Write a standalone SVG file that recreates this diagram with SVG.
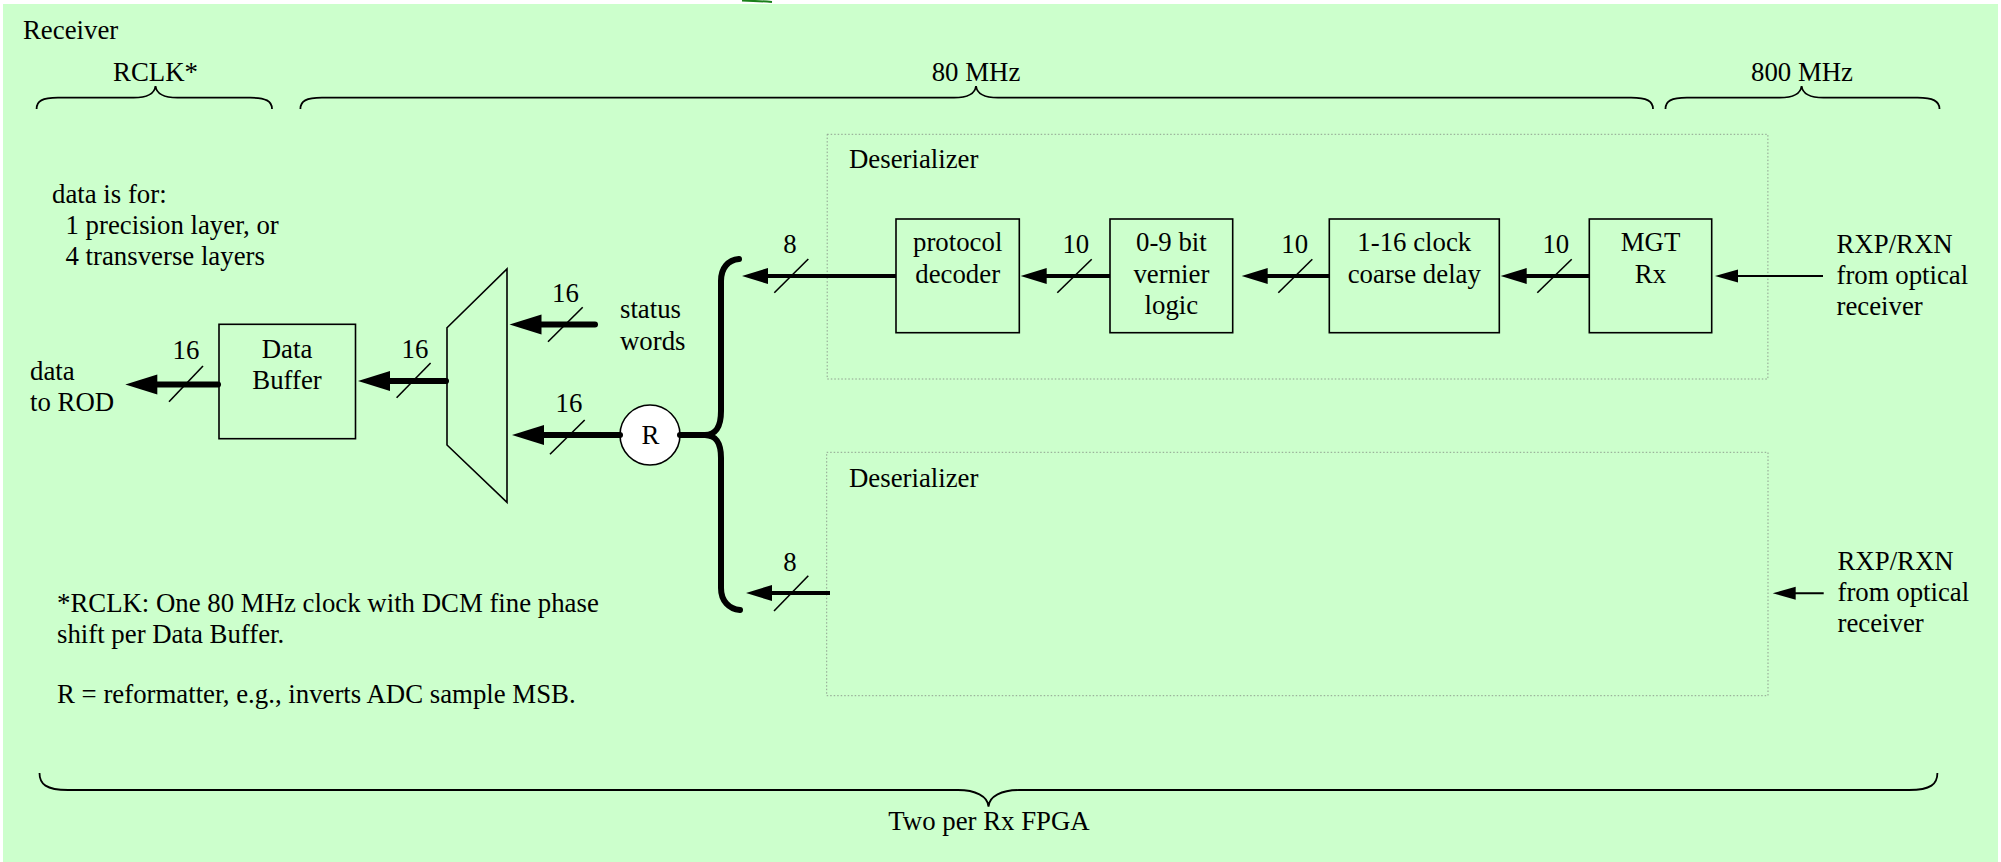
<svg xmlns="http://www.w3.org/2000/svg" width="2001" height="862" viewBox="0 0 2001 862">
<style>
text{font-family:'Liberation Serif','Times New Roman',Times,serif;font-size:26.8px;fill:#000}
.m{text-anchor:middle}
.box{fill:none;stroke:#000;stroke-width:1.6}
.dot{fill:none;stroke:#8f9f8f;stroke-width:1;stroke-dasharray:1.5 2}
.brace{fill:none;stroke:#000;stroke-width:1.8}
.thick{stroke:#000;stroke-width:6;stroke-linecap:round;fill:none}
.med{stroke:#000;stroke-width:4;fill:none}
.thin{stroke:#000;stroke-width:2;fill:none}
.sl{stroke:#000;stroke-width:1.6}
</style>
<defs>
<path id="ahT" d="M0,0 L32,-10 L32,10 Z" fill="#000"/>
<path id="ahM" d="M0,0 L26,-8 L26,8 Z" fill="#000"/>
<path id="ahS" d="M0,0 L23,-6.5 L23,6.5 Z" fill="#000"/>
</defs>
<rect x="0" y="0" width="2001" height="862" fill="#fff"/>
<rect x="3" y="4" width="1995" height="858" fill="#ccffcc"/>
<path d="M742,0.5 Q758,1 772,2" stroke="#1a7f1a" stroke-width="2" fill="none"/>
<text x="23" y="39">Receiver</text>
<g id="braces">
<path class="brace" d="M36.6,109 C36.6,101 42,97.7 58,97.7 H133.5 C147,97.7 154.5,94 155.5,86 C156.5,94 164,97.7 177.5,97.7 H250 C266,97.7 272,101 272,109"/>
<path class="brace" d="M300.4,109 C300.4,101 306,97.7 322,97.7 H954 C967,97.7 975,94 976,86 C977,94 985,97.7 998,97.7 H1631 C1647,97.7 1653,101 1653,109"/>
<path class="brace" d="M1665.5,109 C1665.5,101 1671,97.7 1687,97.7 H1779.6 C1793,97.7 1800.6,94 1801.6,86 C1802.6,94 1810,97.7 1823.6,97.7 H1917.5 C1933,97.7 1939.5,101 1939.5,109"/>
<path class="brace" d="M39.5,773 C39.5,784 46,790 68,790 H958 C975,790 988,796 988.5,806.7 C989,796 1002,790 1019,790 H1909 C1931,790 1937.4,784 1937.4,773"/>
<text class="m" x="155.5" y="81">RCLK*</text>
<text class="m" x="976" y="81">80 MHz</text>
<text class="m" x="1802" y="81">800 MHz</text>
<text class="m" x="989" y="830">Two per Rx FPGA</text>
</g>
<g id="notes">
<text x="52" y="203">data is for:</text>
<text x="65.5" y="234">1 precision layer, or</text>
<text x="65.5" y="265">4 transverse layers</text>
<text x="30" y="380">data</text>
<text x="30" y="411">to ROD</text>
<text x="620" y="318">status</text>
<text x="620" y="349.5">words</text>
<text x="57" y="611.5">*RCLK: One 80 MHz clock with DCM fine phase</text>
<text x="57" y="642.5">shift per Data Buffer.</text>
<text x="57" y="702.5">R = reformatter, e.g., inverts ADC sample MSB.</text>
<text x="1836.5" y="253">RXP/RXN</text>
<text x="1836.5" y="283.5">from optical</text>
<text x="1836.5" y="314.5">receiver</text>
<text x="1837.5" y="570">RXP/RXN</text>
<text x="1837.5" y="600.5">from optical</text>
<text x="1837.5" y="631.5">receiver</text>
</g>
<g id="deserializer-1">
<rect class="dot" x="827.2" y="134.3" width="940.7" height="244.7"/>
<text x="849" y="168.3">Deserializer</text>
</g>
<g id="deserializer-2">
<rect class="dot" x="826.7" y="452.3" width="941.3" height="243.4"/>
<text x="849" y="487.3">Deserializer</text>
</g>
<g id="data-buffer">
<rect class="box" x="219" y="324.3" width="136.5" height="114.4"/>
<text class="m" x="287" y="358.3">Data</text>
<text class="m" x="287" y="389">Buffer</text>
</g>
<g id="mux">
<polygon class="box" points="447,327.7 507,269 507,502.3 447,445"/>
</g>
<g id="reformatter">
<circle cx="650" cy="435" r="30" fill="#fff" stroke="#000" stroke-width="1.6"/>
<text class="m" x="650.5" y="444">R</text>
</g>
<g id="protocol-decoder">
<rect class="box" x="896" y="219" width="123.3" height="113.7"/>
<text class="m" x="957.7" y="251">protocol</text>
<text class="m" x="957.7" y="282.5">decoder</text>
</g>
<g id="vernier-logic">
<rect class="box" x="1110" y="219" width="122.7" height="113.7"/>
<text class="m" x="1171.4" y="251">0-9 bit</text>
<text class="m" x="1171.4" y="282.5">vernier</text>
<text class="m" x="1171.4" y="313.5">logic</text>
</g>
<g id="coarse-delay">
<rect class="box" x="1329.3" y="219" width="170" height="113.7"/>
<text class="m" x="1414.3" y="251">1-16 clock</text>
<text class="m" x="1414.3" y="282.5">coarse delay</text>
</g>
<g id="mgt-rx">
<rect class="box" x="1589.3" y="219" width="122.4" height="113.7"/>
<text class="m" x="1650.5" y="251">MGT</text>
<text class="m" x="1650.5" y="282.5">Rx</text>
</g>
<g id="connectors">
<line class="thick" x1="218" y1="384.5" x2="152" y2="384.5"/>
<use href="#ahT" x="125.3" y="384.5"/>
<line class="sl" x1="169" y1="401.7" x2="203" y2="366"/>
<text class="m" x="186" y="359">16</text>
<line class="thick" x1="446" y1="381" x2="385" y2="381"/>
<use href="#ahT" x="358" y="381"/>
<line class="sl" x1="396.6" y1="397.7" x2="430.6" y2="363"/>
<text class="m" x="415" y="358">16</text>
<line class="thick" x1="595" y1="324.5" x2="535" y2="324.5"/>
<use href="#ahT" x="509.5" y="324.5"/>
<line class="sl" x1="548" y1="341.7" x2="582.7" y2="307.3"/>
<text class="m" x="565.5" y="301.7">16</text>
<line class="thick" x1="620" y1="435" x2="538" y2="435" stroke-linecap="butt"/>
<use href="#ahT" x="512" y="435"/>
<line class="sl" x1="550" y1="454.3" x2="584.7" y2="420"/>
<text class="m" x="569" y="411.7">16</text>
<line class="thick" x1="680" y1="435" x2="705" y2="435" stroke-linecap="butt"/>
<path class="thick" d="M740,610 C729,609 721,601 721,588 V458 C721,442 716,435.5 705,435 C716,434.5 721,427 721,411 V281 C721,268 728,260 739,259"/>
<line class="med" x1="896" y1="276" x2="764" y2="276"/>
<use href="#ahM" x="742" y="276"/>
<line class="sl" x1="774.3" y1="292.7" x2="808.3" y2="259"/>
<text class="m" x="790" y="253.3">8</text>
<line class="med" x1="1110" y1="276" x2="1043" y2="276"/>
<use href="#ahM" x="1020.7" y="276"/>
<line class="sl" x1="1057.3" y1="292.7" x2="1091.7" y2="259.3"/>
<text class="m" x="1075.8" y="253.3">10</text>
<line class="med" x1="1329.3" y1="276" x2="1264" y2="276"/>
<use href="#ahM" x="1241.7" y="276"/>
<line class="sl" x1="1278.3" y1="292.7" x2="1312.3" y2="259.3"/>
<text class="m" x="1294.7" y="253.3">10</text>
<line class="med" x1="1589.3" y1="276" x2="1522" y2="276"/>
<use href="#ahM" x="1500.7" y="276"/>
<line class="sl" x1="1537.3" y1="292.7" x2="1571.7" y2="259.3"/>
<text class="m" x="1555.8" y="253.3">10</text>
<line class="thin" x1="1823" y1="276" x2="1734" y2="276"/>
<use href="#ahS" x="1715" y="276"/>
<line class="med" x1="830" y1="593" x2="766" y2="593"/>
<use href="#ahM" x="746" y="593"/>
<line class="sl" x1="774" y1="611" x2="808.3" y2="575.7"/>
<text class="m" x="790" y="570.7">8</text>
<line class="thin" x1="1823.7" y1="593.3" x2="1791" y2="593.3"/>
<use href="#ahS" x="1772.7" y="593.3"/>
</g>
</svg>
